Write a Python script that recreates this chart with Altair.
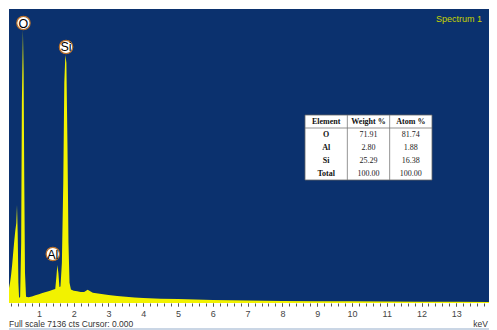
import altair as alt
import pandas as pd

# ---- spectrum (keV, counts) ----
energy = [0.14, 0.17, 0.20, 0.23, 0.26, 0.29, 0.32, 0.35, 0.37, 0.39, 0.41, 0.43,
          0.46, 0.49, 0.51, 0.54, 0.56, 0.58, 0.60, 0.63, 0.70, 0.80, 0.90, 1.00,
          1.10, 1.20, 1.30, 1.40, 1.47, 1.50, 1.53, 1.56, 1.59, 1.62, 1.66, 1.70,
          1.73, 1.76, 1.79, 1.82, 1.85, 1.88, 1.92, 2.00, 2.10, 2.20, 2.30, 2.40,
          2.45, 2.55, 2.70, 2.85, 3.00, 3.25, 3.50, 3.75, 4.00, 4.50, 5.00, 5.50,
          6.00, 6.50, 7.00, 7.50, 8.00, 9.00, 10.00, 11.00, 12.00, 13.00, 14.00]
counts = [365, 490, 680, 920, 1215, 1500, 1750, 1940, 2380, 1700, 490, 120,
          150, 1450, 4860, 6630, 5600, 2900, 730, 150, 140, 160, 190, 215,
          240, 265, 290, 320, 340, 610, 920, 730, 390, 400, 970, 2900,
          5350, 6020, 5830, 3900, 1460, 490, 330, 300, 285, 270, 265, 320,
          300, 250, 230, 210, 195, 170, 150, 135, 120, 105, 95, 85,
          75, 68, 60, 55, 50, 45, 40, 35, 30, 28, 25]

# ---- peak labels ----
peak_names = ["O", "Si", "Al"]
peak_label_energy = [0.555, 1.78, 1.40]
peak_label_counts = [6796, 6214, 1189]

# ---- quantification table ----
table_header = ["Element", "Weight %", "Atom %"]
table_elements = ["O", "Al", "Si", "Total"]
table_weight = ["71.91", "2.80", "25.29", "100.00"]
table_atom = ["81.74", "1.88", "16.38", "100.00"]

full_scale = 7136
major_ticks = list(range(1, 15))
minor_ticks = [round(0.2 * i, 1) for i in range(1, 71)]

BG = "#0b316e"
YELLOW = "#f2f200"

spec = pd.DataFrame({"E": energy, "c": counts})
labels = pd.DataFrame({"el": peak_names, "E": peak_label_energy, "c": peak_label_counts})

xscale = alt.Scale(domain=[0.14, 13.94], nice=False, zero=False)
yscale = alt.Scale(domain=[0, full_scale], nice=False)

major_axis = alt.Axis(values=major_ticks, title=None, domain=False, grid=False, orient="bottom",
                      tickSize=3, tickColor="#555555", tickWidth=1, format="d",
                      labelColor="#444444", labelFontSize=9, labelFont="Liberation Sans",
                      labelPadding=3, labelOverlap=False, labelFlush=False, labelBound=False)
minor_axis = alt.Axis(values=minor_ticks, title=None, domain=False, grid=False, orient="bottom",
                      tickSize=3, tickColor="#555555", tickWidth=1, labels=False)

area = alt.Chart(spec).mark_area(color=YELLOW, clip=True, interpolate="linear").encode(
    x=alt.X("E:Q", scale=xscale, axis=major_axis),
    y=alt.Y("c:Q", scale=yscale, axis=None),
)

circles = alt.Chart(labels).mark_circle(size=180, color="white", opacity=1,
                                        stroke="#b8702c", strokeWidth=1.2).encode(
    x=alt.X("E:Q", scale=xscale, axis=minor_axis),
    y=alt.Y("c:Q", scale=yscale, axis=None),
)

ltext = alt.Chart(labels).mark_text(font="Liberation Sans", fontSize=12.5, color="black",
                                    baseline="middle", align="center", dy=0.5).encode(
    x=alt.X("E:Q", scale=xscale, axis=None),
    y=alt.Y("c:Q", scale=yscale, axis=None),
    text="el:N",
)

spectrum = alt.layer(area, circles, ltext).resolve_axis(x="independent")

# table in its own coordinate space (columns 0..3, rows 0..5)
tx = alt.Scale(domain=[0, 3], range=[296, 423], nice=False, zero=False)
ty = alt.Scale(domain=[0, 5], range=[106, 171], nice=False, zero=False)

cells = []
cols = ([table_header[0]] + table_elements,
        [table_header[1]] + table_weight,
        [table_header[2]] + table_atom)
for ci, col in enumerate(cols):
    for ri, val in enumerate(col):
        cells.append({"tx": ci + 0.5, "ty": ri + 0.5, "t": val,
                      "bold": (ri == 0 or ci == 0)})
cells_df = pd.DataFrame(cells)

box = alt.Chart(pd.DataFrame({"x0": [0], "x1": [3], "y0": [0], "y1": [5]})).mark_rect(
    fill="white", stroke="#666666", strokeWidth=0.8).encode(
    x=alt.X("x0:Q", scale=tx, axis=None), x2="x1:Q",
    y=alt.Y("y0:Q", scale=ty, axis=None), y2="y1:Q")

vlines = alt.Chart(pd.DataFrame({"x0": [1, 2], "y0": [0, 0], "y1": [5, 5]})).mark_rule(
    color="#777777", strokeWidth=0.8).encode(
    x=alt.X("x0:Q", scale=tx, axis=None),
    y=alt.Y("y0:Q", scale=ty, axis=None), y2="y1:Q")

hline = alt.Chart(pd.DataFrame({"x0": [0], "x1": [3], "y0": [1]})).mark_rule(
    color="#777777", strokeWidth=0.8).encode(
    x=alt.X("x0:Q", scale=tx, axis=None), x2="x1:Q",
    y=alt.Y("y0:Q", scale=ty, axis=None))

ttext_b = alt.Chart(cells_df[cells_df.bold]).mark_text(
    font="Liberation Serif", fontSize=8, fontWeight="bold", color="#111111",
    baseline="middle").encode(
    x=alt.X("tx:Q", scale=tx, axis=None), y=alt.Y("ty:Q", scale=ty, axis=None), text="t:N")
ttext = alt.Chart(cells_df[~cells_df.bold]).mark_text(
    font="Liberation Serif", fontSize=8, color="#222222", baseline="middle").encode(
    x=alt.X("tx:Q", scale=tx, axis=None), y=alt.Y("ty:Q", scale=ty, axis=None), text="t:N")

table = alt.layer(box, vlines, hline, ttext_b, ttext)

# annotations
spec_title = alt.Chart(pd.DataFrame({"t": ["Spectrum 1"]})).mark_text(
    font="Liberation Sans", fontSize=9, color="#c8d400", align="center", baseline="middle").encode(
    x=alt.value(450), y=alt.value(10), text="t:N")
footer = alt.Chart(pd.DataFrame({"t": ["Full scale 7136 cts Cursor: 0.000"]})).mark_text(
    font="Liberation Sans", fontSize=8.5, color="#333333", align="left", baseline="middle").encode(
    x=alt.value(0), y=alt.value(315), text="t:N")
kev = alt.Chart(pd.DataFrame({"t": ["keV"]})).mark_text(
    font="Liberation Sans", fontSize=8.5, color="#333333", align="right", baseline="middle").encode(
    x=alt.value(479), y=alt.value(315), text="t:N")
uline = alt.Chart(pd.DataFrame({"t": [0]})).mark_rule(color="#b9c9dd", strokeWidth=1.5).encode(
    x=alt.value(0), x2=alt.value(480), y=alt.value(320))
annot = alt.layer(spec_title, footer, kev, uline)

chart = alt.layer(spectrum, table, annot).resolve_scale(
    x="independent", y="independent"
).properties(
    width=480, height=294,
    padding={"left": 1, "top": 1, "right": 0, "bottom": 27},
    autosize=alt.AutoSizeParams(type="none"),
    background="white",
).configure_view(fill=BG, stroke=None)

chart.save("out.html", embed_options={"renderer": "svg", "actions": False})
